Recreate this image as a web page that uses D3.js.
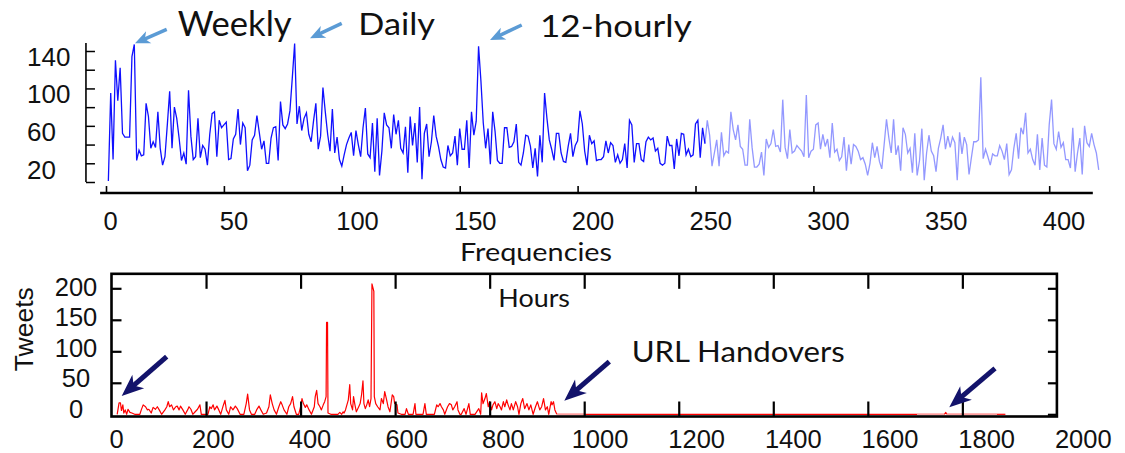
<!DOCTYPE html>
<html><head><meta charset="utf-8">
<script src="https://cdn.jsdelivr.net/npm/d3@7"></script>
<style>body{margin:0;background:#fff} svg{display:block}</style>
</head><body>
<svg id="c" width="1125" height="453"></svg>
<script>
// ---------- DATA ----------
// Top panel: spectrum magnitude at frequencies 1..421
const spectrum = [
1,95,24,130,87,122,52,48,48,48,134,147,23,34,28,29,84,70,36,43,
37,75,36,18,27,61,97,36,80,68,47,23,31,19,98,49,24,27,68,26,
39,35,18,51,73,75,27,66,58,61,64,24,25,46,51,78,40,63,58,12,
18,45,50,71,53,35,44,20,20,47,58,59,23,86,61,57,62,76,111,148,
62,81,55,68,74,51,43,65,84,35,49,101,75,51,33,78,31,48,24,17,
29,40,47,53,28,55,40,27,58,79,30,26,63,11,68,7,33,74,61,58,
36,72,51,66,36,31,59,10,70,39,63,21,80,3,52,62,27,43,71,49,
38,24,16,15,39,28,31,49,18,57,35,35,66,15,75,50,65,145,108,63,
36,57,19,75,54,23,20,20,58,58,37,38,43,62,21,18,31,50,49,38,
15,36,6,50,21,95,68,45,35,23,52,52,31,22,21,38,52,27,39,44,
76,62,33,18,50,41,44,23,24,24,27,44,31,42,39,21,29,20,24,41,
15,66,61,21,41,41,24,22,43,48,45,47,33,36,20,18,20,49,39,39,
14,46,28,52,51,29,35,27,29,62,66,26,58,41,66,50,17,31,45,17,
53,28,33,31,75,56,45,61,38,35,18,18,67,37,16,16,19,32,7,46,
37,41,56,38,39,32,88,37,25,56,31,33,39,36,33,27,93,26,33,35,
61,63,35,51,38,46,26,63,32,35,23,27,48,12,40,19,40,38,33,24,
26,19,7,20,42,26,38,22,14,40,67,47,31,67,29,39,12,58,51,31,
36,10,52,7,23,57,2,31,50,33,28,11,36,47,61,35,49,37,48,42,
2,53,30,48,40,8,26,43,43,45,112,25,35,27,18,30,28,28,39,33,
24,41,8,13,36,52,25,58,51,74,31,35,24,18,51,13,47,18,16,61,
88,41,35,54,37,42,24,24,15,58,11,31,47,8,60,42,38,52,40,31,13
];
const spectrumStartFreq = 1;
const fadedFromFreq = 254;      // lighter part of the spectrum
const freqTicks = [0,50,100,150,200,250,300,350,400];
const ampTicks = [0,20,40,60,80,100,120,140];
const ampLabels = [20,60,100,140];

// Bottom panel: tweets per hour
const hours = [12,16,19,21,24,26,29,32,35,39,43,49,60,63,67,72,76,79,84,88,93,97,101,106,113,117,120,123,127,131,136,139,143,146,151,156,161,164,168,172,177,182,187,190,204,208,211,215,218,223,227,231,236,240,243,248,252,257,262,266,272,280,285,288,292,296,303,307,312,316,321,328,333,336,340,344,349,354,358,361,365,371,375,379,383,386,391,396,400,403,406,410,413,418,423,429,431,434,437,441,444,448,451,454,455,457,458,464,479,483,487,490,492,495,498,501,504,506,510,512,515,518,523,526,529,532,534,537,540,543,546,549,551,555,556,559,563,568,571,575,578,582,585,589,594,597,599,604,606,613,621,624,628,638,642,644,659,663,666,683,688,691,695,698,702,705,711,715,719,722,726,731,733,737,740,746,750,756,759,769,777,781,783,786,790,793,797,800,804,807,811,815,818,822,825,829,832,836,839,843,846,850,855,859,862,866,870,874,879,883,887,892,897,901,906,910,914,918,922,925,930,932,935,938,942,1002,1704,1762,1765,1767,1770,1873,1891];
const tweets = [0,18,18,6,15,2,7,0,8,3,2,0,0,7,15,12,7,8,2,11,8,12,7,0,7,12,20,12,15,7,12,13,7,13,7,0,7,12,8,0,4,8,15,0,0,12,9,15,7,13,7,0,13,22,7,0,12,7,13,9,0,0,17,32,7,0,0,7,13,7,0,2,12,31,17,7,0,12,20,15,7,0,12,17,28,12,0,0,12,25,17,11,15,7,0,12,28,38,17,12,7,15,20,28,146,146,2,0,0,3,0,4,2,7,15,23,47,17,7,28,15,4,12,17,31,53,17,9,15,23,12,25,207,195,28,17,12,7,25,17,36,23,12,4,31,28,17,15,2,0,0,9,0,0,17,0,0,17,0,0,15,12,17,12,7,0,12,17,15,7,12,20,7,0,0,9,0,17,0,0,9,0,34,17,25,33,12,20,7,15,20,9,17,12,7,20,12,23,15,7,17,7,20,12,0,17,25,9,17,7,15,0,12,20,7,12,25,7,12,0,20,15,20,7,0,0,0,0,3,0,0,0,0];
const fadedHourRanges = [[942,1002],[1704,1762],[1767,1873]];
const hourTicks = [0,200,400,600,800,1000,1200,1400,1600,1800,2000];
const tweetTicks = [0,50,100,150,200];

// ---------- DRAW ----------
const svg = d3.select("#c");
const NUM = "'Liberation Sans', Arial, sans-serif";
const TXT = "Lato, 'Open Sans', sans-serif";

// ===== Top panel =====
const xF = d3.scaleLinear().domain([0,400]).range([106,1049.2]);
const yF = d3.scaleLinear().domain([0,140]).range([182,51]);
const xFLab = d3.scaleLinear().domain([0,50,100,400]).range([110.7,234,357.5,1064]);
const yFLab = d3.scaleLinear().domain([20,140]).range([170,56.2]);

const specPts = spectrum.map((v,i)=>({f:i+spectrumStartFreq, v}));
const lineF = d3.line().x(d=>xF(d.f)).y(d=>yF(d.v));
svg.append("path").datum(specPts.filter(d=>d.f>=fadedFromFreq))
  .attr("d", lineF).attr("fill","none").attr("stroke","rgba(40,50,255,0.5)").attr("stroke-width",1.3);
svg.append("path").datum(specPts.filter(d=>d.f<=fadedFromFreq))
  .attr("d", lineF).attr("fill","none").attr("stroke","#1010ff").attr("stroke-width",1.3);

// x axis (bottom)
const gxF = svg.append("g").attr("transform",`translate(0,${yF(-11.8)})`)
  .call(d3.axisBottom(xF).tickValues(freqTicks).tickSize(-7).tickSizeOuter(0).tickFormat(""));
gxF.select(".domain").remove();
gxF.selectAll(".tick line").attr("stroke","#000").attr("stroke-width",1.6);
svg.append("line").attr("x1",xF(-2.5)).attr("x2",xF(418.5))
  .attr("y1",yF(-11.8)).attr("y2",yF(-11.8)).attr("stroke","#000").attr("stroke-width",2.6);
svg.selectAll("text.fx").data(freqTicks).enter().append("text")
  .attr("x",d=>xFLab(d)).attr("y",229.5).attr("text-anchor","middle")
  .attr("font-family",NUM).attr("font-size",25.5).attr("fill","#111").text(d=>d);

// y axis (left)
const gyF = svg.append("g").attr("transform",`translate(${xF(-8.5)},0)`)
  .call(d3.axisRight(yF).tickValues(ampTicks).tickSize(9).tickSizeOuter(0).tickFormat(""));
gyF.select(".domain").remove();
gyF.selectAll(".tick line").attr("stroke","#000").attr("stroke-width",1.5);
svg.append("line").attr("x1",xF(-8.5)).attr("x2",xF(-8.5))
  .attr("y1",yF(148.5)).attr("y2",yF(0)).attr("stroke","#000").attr("stroke-width",1.6);
svg.selectAll("text.fy").data(ampLabels).enter().append("text")
  .attr("x",27).attr("y",d=>yFLab(d)+9.3).attr("text-anchor","start")
  .attr("font-family",NUM).attr("font-size",26).attr("fill","#111").text(d=>d);

svg.append("text").attr("x",460).attr("y",260.7).attr("textLength",152).attr("lengthAdjust","spacingAndGlyphs")
  .attr("font-family",TXT).attr("font-size",24.7).attr("fill","#111").text("Frequencies");

// ===== Bottom panel =====
const xH = d3.scaleLinear().domain([0,2000]).range([111.5,1056.9]);
const yH = d3.scaleLinear().domain([0,200]).range([414.3,288.3]);
const xHLab = d3.scaleLinear().domain([0,2000]).range([116.7,1083.3]);
const yHLab = d3.scaleLinear().domain([0,200]).range([408.3,286.7]);

const tw = hours.map((h,i)=>({h, v:tweets[i]}));
const inFaded = h => fadedHourRanges.some(r=>h>=r[0]&&h<=r[1]);
// split into runs of normal / faded segments
const runs = [];
for (let i=0;i<tw.length-1;i++){
  const faded = inFaded((tw[i].h+tw[i+1].h)/2);
  const last = runs[runs.length-1];
  if (last && last.faded===faded) last.pts.push(tw[i+1]);
  else runs.push({faded, pts:[tw[i],tw[i+1]]});
}
const lineH = d3.line().x(d=>xH(d.h)).y(d=>yH(d.v));
svg.selectAll("path.tw").data(runs).enter().append("path")
  .attr("d",d=>lineH(d.pts)).attr("fill","none")
  .attr("stroke",d=>d.faded?"rgba(255,60,60,0.5)":"#ff0000")
  .attr("stroke-width",d=>d.faded?2:1.2).attr("stroke-linejoin","round");

// frame
const fx0 = xH(0), fx1 = xH(2000), fy0 = yH(223), fy1 = yH(-3.5);
svg.append("rect").attr("x",fx0).attr("y",fy0).attr("width",fx1-fx0).attr("height",fy1-fy0)
  .attr("fill","none").attr("stroke","#000").attr("stroke-width",2.6);

// ticks
const tickInner = hourTicks.filter(d=>d>0&&d<2000);
const gTop = svg.append("g").attr("transform",`translate(0,${fy0})`)
  .call(d3.axisBottom(xH).tickValues(tickInner).tickSize(15).tickSizeOuter(0).tickFormat(""));
const gBot = svg.append("g").attr("transform",`translate(0,${fy1})`)
  .call(d3.axisTop(xH).tickValues(tickInner).tickSize(15).tickSizeOuter(0).tickFormat(""));
const gL = svg.append("g").attr("transform",`translate(${fx0},0)`)
  .call(d3.axisRight(yH).tickValues(tweetTicks.filter(d=>d>0)).tickSize(10).tickSizeOuter(0).tickFormat(""));
const gR = svg.append("g").attr("transform",`translate(${fx1},0)`)
  .call(d3.axisLeft(yH).tickValues(tweetTicks).tickSize(9).tickSizeOuter(0).tickFormat(""));
[gTop,gBot,gL,gR].forEach(g=>{g.select(".domain").remove();
  g.selectAll(".tick line").attr("stroke","#000").attr("stroke-width",2.2);});

svg.selectAll("text.hx").data(hourTicks).enter().append("text")
  .attr("x",d=>xHLab(d)).attr("y",448).attr("text-anchor","middle")
  .attr("font-family",NUM).attr("font-size",25.5).attr("fill","#111").text(d=>d);
svg.selectAll("text.hy").data(tweetTicks).enter().append("text")
  .attr("x",76).attr("y",d=>yHLab(d)+9.3).attr("text-anchor","middle")
  .attr("font-family",NUM).attr("font-size",25.5).attr("fill","#111").text(d=>d);

svg.append("text").attr("transform","translate(33.3,329.2) rotate(-90)").attr("text-anchor","middle")
  .attr("font-family",NUM).attr("font-size",26.5).attr("fill","#111").text("Tweets");
svg.append("text").attr("x",498.3).attr("y",307.3).attr("textLength",71.7).attr("lengthAdjust","spacingAndGlyphs")
  .attr("font-family",TXT).attr("font-size",25).attr("fill","#111").text("Hours");
svg.append("text").attr("x",631.7).attr("y",361.7).attr("textLength",213).attr("lengthAdjust","spacingAndGlyphs")
  .attr("font-family",TXT).attr("font-size",29).attr("fill","#111").text("URL Handovers");

// ===== Annotations =====
function arrow(x1,y1,x2,y2,color,w,L,W){
  const dx=x2-x1, dy=y2-y1, len=Math.hypot(dx,dy), ux=dx/len, uy=dy/len, nx=-uy, ny=ux;
  const bx=x2-ux*L, by=y2-uy*L, mx=x2-ux*L*0.72, my=y2-uy*L*0.72;
  svg.append("line").attr("x1",x1).attr("y1",y1).attr("x2",mx+ux).attr("y2",my+uy)
    .attr("stroke",color).attr("stroke-width",w);
  svg.append("path").attr("d",`M${x2},${y2}L${bx+nx*W/2},${by+ny*W/2}L${mx},${my}L${bx-nx*W/2},${by-ny*W/2}Z`)
    .attr("fill",color);
}
const LB="#5b9bd5", NV="#13136b";
arrow(166.7,29.3,135,43.3,LB,3.5,15,13);
arrow(341.7,23.3,310,38.3,LB,3.5,15,13);
arrow(521.7,25,490,40,LB,3.5,15,13);
arrow(166.7,356.7,121.7,396,NV,5,22,18);
arrow(609.3,361.7,564.3,400.7,NV,5,22,18);
arrow(995,368.3,949.3,407.3,NV,5,22,18);

svg.append("text").attr("x",177.7).attr("y",35.5).attr("textLength",114).attr("lengthAdjust","spacingAndGlyphs")
  .attr("font-family",TXT).attr("font-size",35).attr("fill","#111").text("Weekly");
svg.append("text").attr("x",358.3).attr("y",35).attr("textLength",76.7).attr("lengthAdjust","spacingAndGlyphs")
  .attr("font-family",TXT).attr("font-size",30).attr("fill","#111").text("Daily");
svg.append("text").attr("x",540).attr("y",36.7).attr("textLength",151.7).attr("lengthAdjust","spacingAndGlyphs")
  .attr("font-family",TXT).attr("font-size",30).attr("fill","#111").text("12-hourly");
</script></body></html>
